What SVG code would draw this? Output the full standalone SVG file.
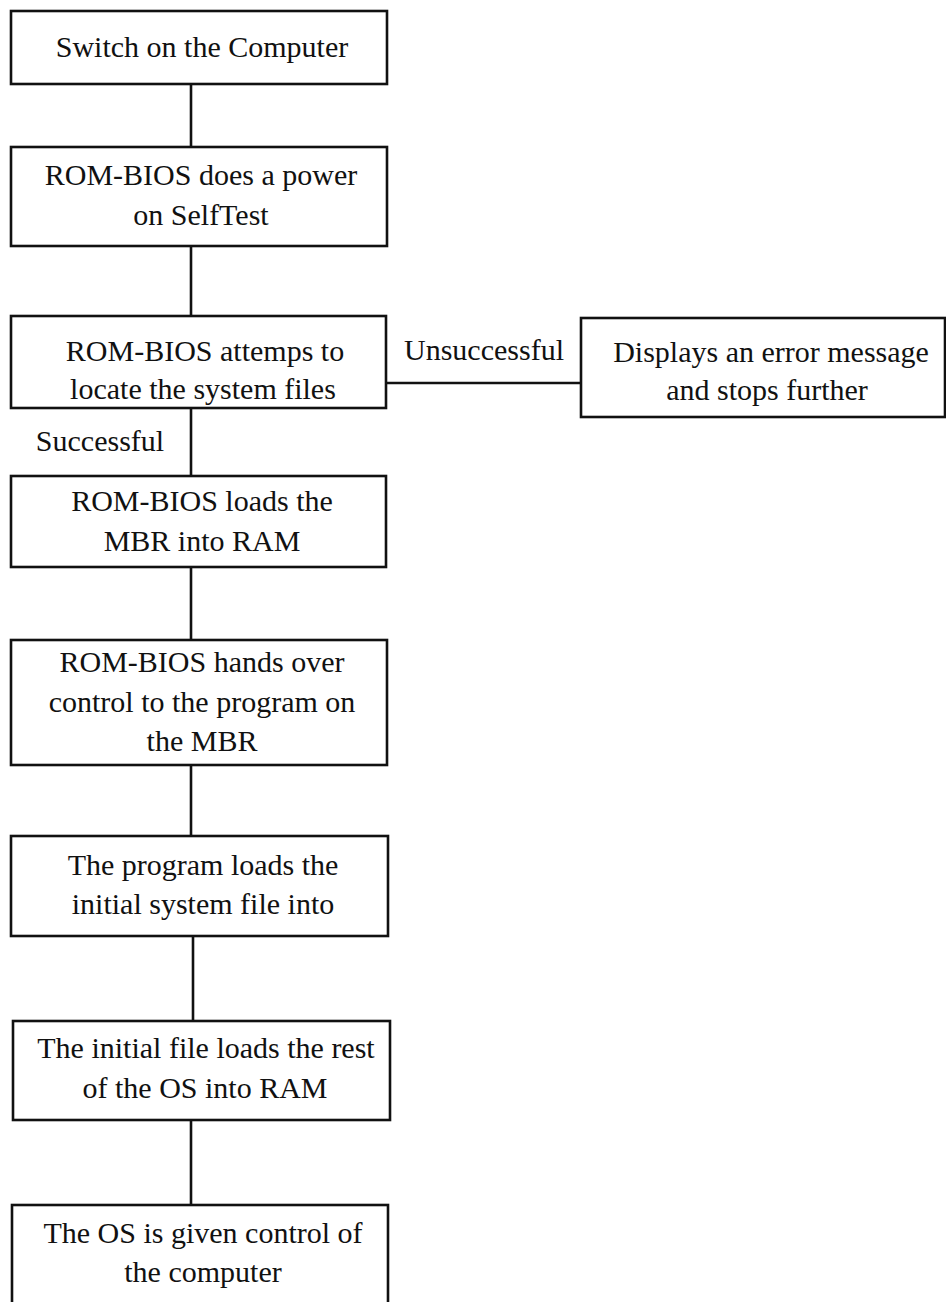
<svg xmlns="http://www.w3.org/2000/svg" width="946" height="1302" viewBox="0 0 946 1302">
<style>
.box{fill:#fff;stroke:#111;stroke-width:2.6}
.ln{stroke:#111;stroke-width:2.6;fill:none}
text{font-family:"Liberation Serif","Times New Roman",serif;font-size:30px;fill:#111;text-anchor:middle}
</style>
<rect width="946" height="1302" fill="#fff"/>
<g id="connectors">
<line class="ln" x1="191" y1="84" x2="191" y2="147"/>
<line class="ln" x1="191" y1="246" x2="191" y2="316"/>
<line class="ln" x1="386" y1="383" x2="581" y2="383"/>
<line class="ln" x1="191" y1="408" x2="191" y2="476"/>
<line class="ln" x1="191" y1="567" x2="191" y2="640"/>
<line class="ln" x1="191" y1="765" x2="191" y2="836"/>
<line class="ln" x1="193" y1="936" x2="193" y2="1021"/>
<line class="ln" x1="191" y1="1120" x2="191" y2="1205"/>
<text x="484" y="360">Unsuccessful</text>
<text x="100" y="451">Successful</text>
</g>
<g id="n1"><rect class="box" x="11" y="11" width="376" height="73"/><text x="202" y="57">Switch on the Computer</text></g>
<g id="n2"><rect class="box" x="11" y="147" width="376" height="99"/><text x="201" y="185">ROM-BIOS does a power</text><text x="201" y="225">on SelfTest</text></g>
<g id="n3"><rect class="box" x="11" y="316" width="375" height="92"/><text x="205" y="361">ROM-BIOS attemps to</text><text x="203" y="399">locate the system files</text></g>
<g id="n4"><rect class="box" x="581" y="318" width="364" height="99"/><text x="771" y="362">Displays an error message</text><text x="767" y="400">and stops further</text></g>
<g id="n5"><rect class="box" x="11" y="476" width="375" height="91"/><text x="202" y="511">ROM-BIOS loads the</text><text x="202" y="551">MBR into RAM</text></g>
<g id="n6"><rect class="box" x="11" y="640" width="376" height="125"/><text x="202" y="672">ROM-BIOS hands over</text><text x="202" y="712">control to the program on</text><text x="202" y="751">the MBR</text></g>
<g id="n7"><rect class="box" x="11" y="836" width="377" height="100"/><text x="203" y="875">The program loads the</text><text x="203" y="914">initial system file into</text></g>
<g id="n8"><rect class="box" x="13" y="1021" width="377" height="99"/><text x="206" y="1058">The initial file loads the rest</text><text x="205" y="1098">of the OS into RAM</text></g>
<g id="n9"><rect class="box" x="12" y="1205" width="376" height="110"/><text x="203" y="1243">The OS is given control of</text><text x="203" y="1282">the computer</text></g>
</svg>
